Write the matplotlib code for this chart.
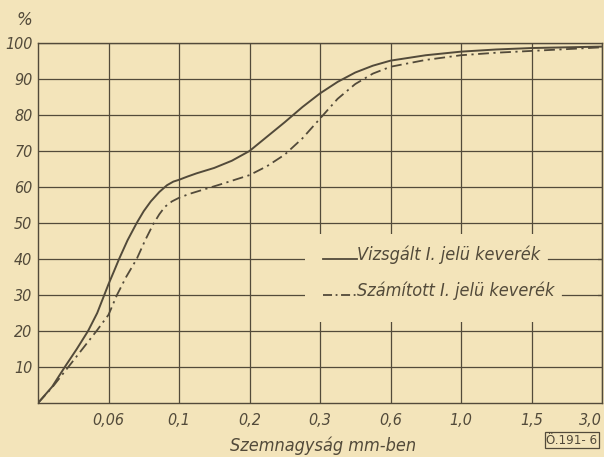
import numpy as np
import matplotlib.pyplot as plt
from matplotlib.patches import Rectangle

# x axis is not linear: each sieve size gets one equal step
size_labels = ['0,06', '0,1', '0,2', '0,3', '0,6', '1,0', '1,5', '3,0']
y_ticks = [10, 20, 30, 40, 50, 60, 70, 80, 90, 100]

# measured curve (Vizsgalt), x in category steps
meas_x = [0, 0.2, 0.38, 0.55, 0.71, 0.84, 0.94, 1.0, 1.08, 1.15, 1.27, 1.4, 1.5, 1.6, 1.72, 1.83, 1.92, 2.0, 2.12, 2.25, 2.5, 2.75, 3.0, 3.25, 3.5, 3.75, 4.0, 4.25, 4.5, 4.75, 5.0, 5.5, 6.0, 6.5, 7.0, 8.0]
meas_y = [0, 4.5, 10, 15, 20, 25, 30, 33, 36.7, 40, 45.2, 50, 53.3, 56, 58.6, 60.5, 61.5, 62, 62.9, 63.8, 65.3, 67.3, 70, 74, 78, 82.2, 86, 89.2, 91.8, 93.7, 95.1, 96.6, 97.6, 98.2, 98.6, 99]

# calculated curve (Szamitott)
calc_x = [0, 0.2, 0.43, 0.63, 0.83, 1.0, 1.12, 1.25, 1.4, 1.52, 1.63, 1.72, 1.8, 1.9, 2.0, 2.15, 2.3, 2.6, 3.0, 3.25, 3.5, 3.75, 4.0, 4.25, 4.5, 4.75, 5.0, 5.5, 6.0, 6.5, 7.0, 8.0]
calc_y = [0, 4.3, 10, 15, 20, 24.5, 30, 35, 40, 45.2, 49.5, 52.4, 54.5, 56, 57, 58.1, 59, 60.8, 63.3, 65.8, 69, 73.5, 79, 84.5, 88.6, 91.5, 93.4, 95.3, 96.6, 97.3, 97.8, 98.8]

bg = '#f3e4ba'
ink = '#524a3a'
font = ['DejaVu Sans']

fig = plt.figure(figsize=(6.04, 4.57), dpi=100, facecolor=bg)
ax = fig.add_axes([38/604, 1-403/457, 564/604, 360/457])
ax.set_facecolor(bg)

ax.set_xlim(0, 8)
ax.set_ylim(0, 100)
ax.set_xticks(np.arange(1, len(size_labels)+1))
ax.set_xticklabels(size_labels)
ax.set_yticks(y_ticks)
ax.set_yticklabels([str(v) for v in y_ticks])
ax.tick_params(length=0, colors=ink, labelsize=11.5)
ax.tick_params(axis='x', pad=7)
ax.tick_params(axis='y', pad=4)
for lab in ax.get_xticklabels() + ax.get_yticklabels():
    lab.set_family(font)
    lab.set_style('italic')
    lab.set_stretch('condensed')
ax.get_xticklabels()[-1].set_ha('right')
ax.grid(True, color=ink, lw=0.9, zorder=1)
for s in ax.spines.values():
    s.set_color(ink)
    s.set_linewidth(1.0)

ax.plot(meas_x, meas_y, color=ink, lw=1.4, zorder=3)
ax.plot(calc_x, calc_y, color=ink, lw=1.3, dashes=(6, 2.5, 1.2, 2.5), zorder=3)

# blank patch behind the legend text, gridline ends drawn back in
ax.add_patch(Rectangle((3.79, 22.5), 4.16, 24.4, facecolor=bg, edgecolor='none', zorder=2))
ax.plot([7.23, 8], [40, 40], color=ink, lw=0.9, zorder=2.5)
ax.plot([7.43, 8], [30, 30], color=ink, lw=0.9, zorder=2.5)
ax.plot([4.04, 4.52], [40, 40], color=ink, lw=1.3, zorder=3)
ax.plot([4.04, 4.52], [30, 30], color=ink, lw=1.3, dashes=(5, 2, 1, 2), zorder=3)
ax.text(4.53, 39.6, 'Vizsgált I. jelü keverék', family=font, style='italic', stretch='condensed',
        fontsize=13, color=ink, va='baseline', ha='left', zorder=3)
ax.text(4.53, 29.6, 'Számított I. jelü keverék', family=font, style='italic', stretch='condensed',
        fontsize=13, color=ink, va='baseline', ha='left', zorder=3)

fig.text(24/604, 1-20/457, '%', family=font, style='italic', fontsize=12,
         color=ink, ha='center', va='center')
fig.text(323/604, 1-446/457, 'Szemnagyság mm-ben', family=font, style='italic', stretch='condensed',
         fontsize=13, color=ink, ha='center', va='center')
fig.text(572/604, 1-440/457, 'Ö.191- 6', family=font, fontsize=9.5, color=ink,
         ha='center', va='center', stretch='condensed',
         bbox=dict(boxstyle='square,pad=0.12', facecolor='none', edgecolor=ink, lw=0.9))

fig.savefig('out.png', dpi=100, facecolor=bg)
